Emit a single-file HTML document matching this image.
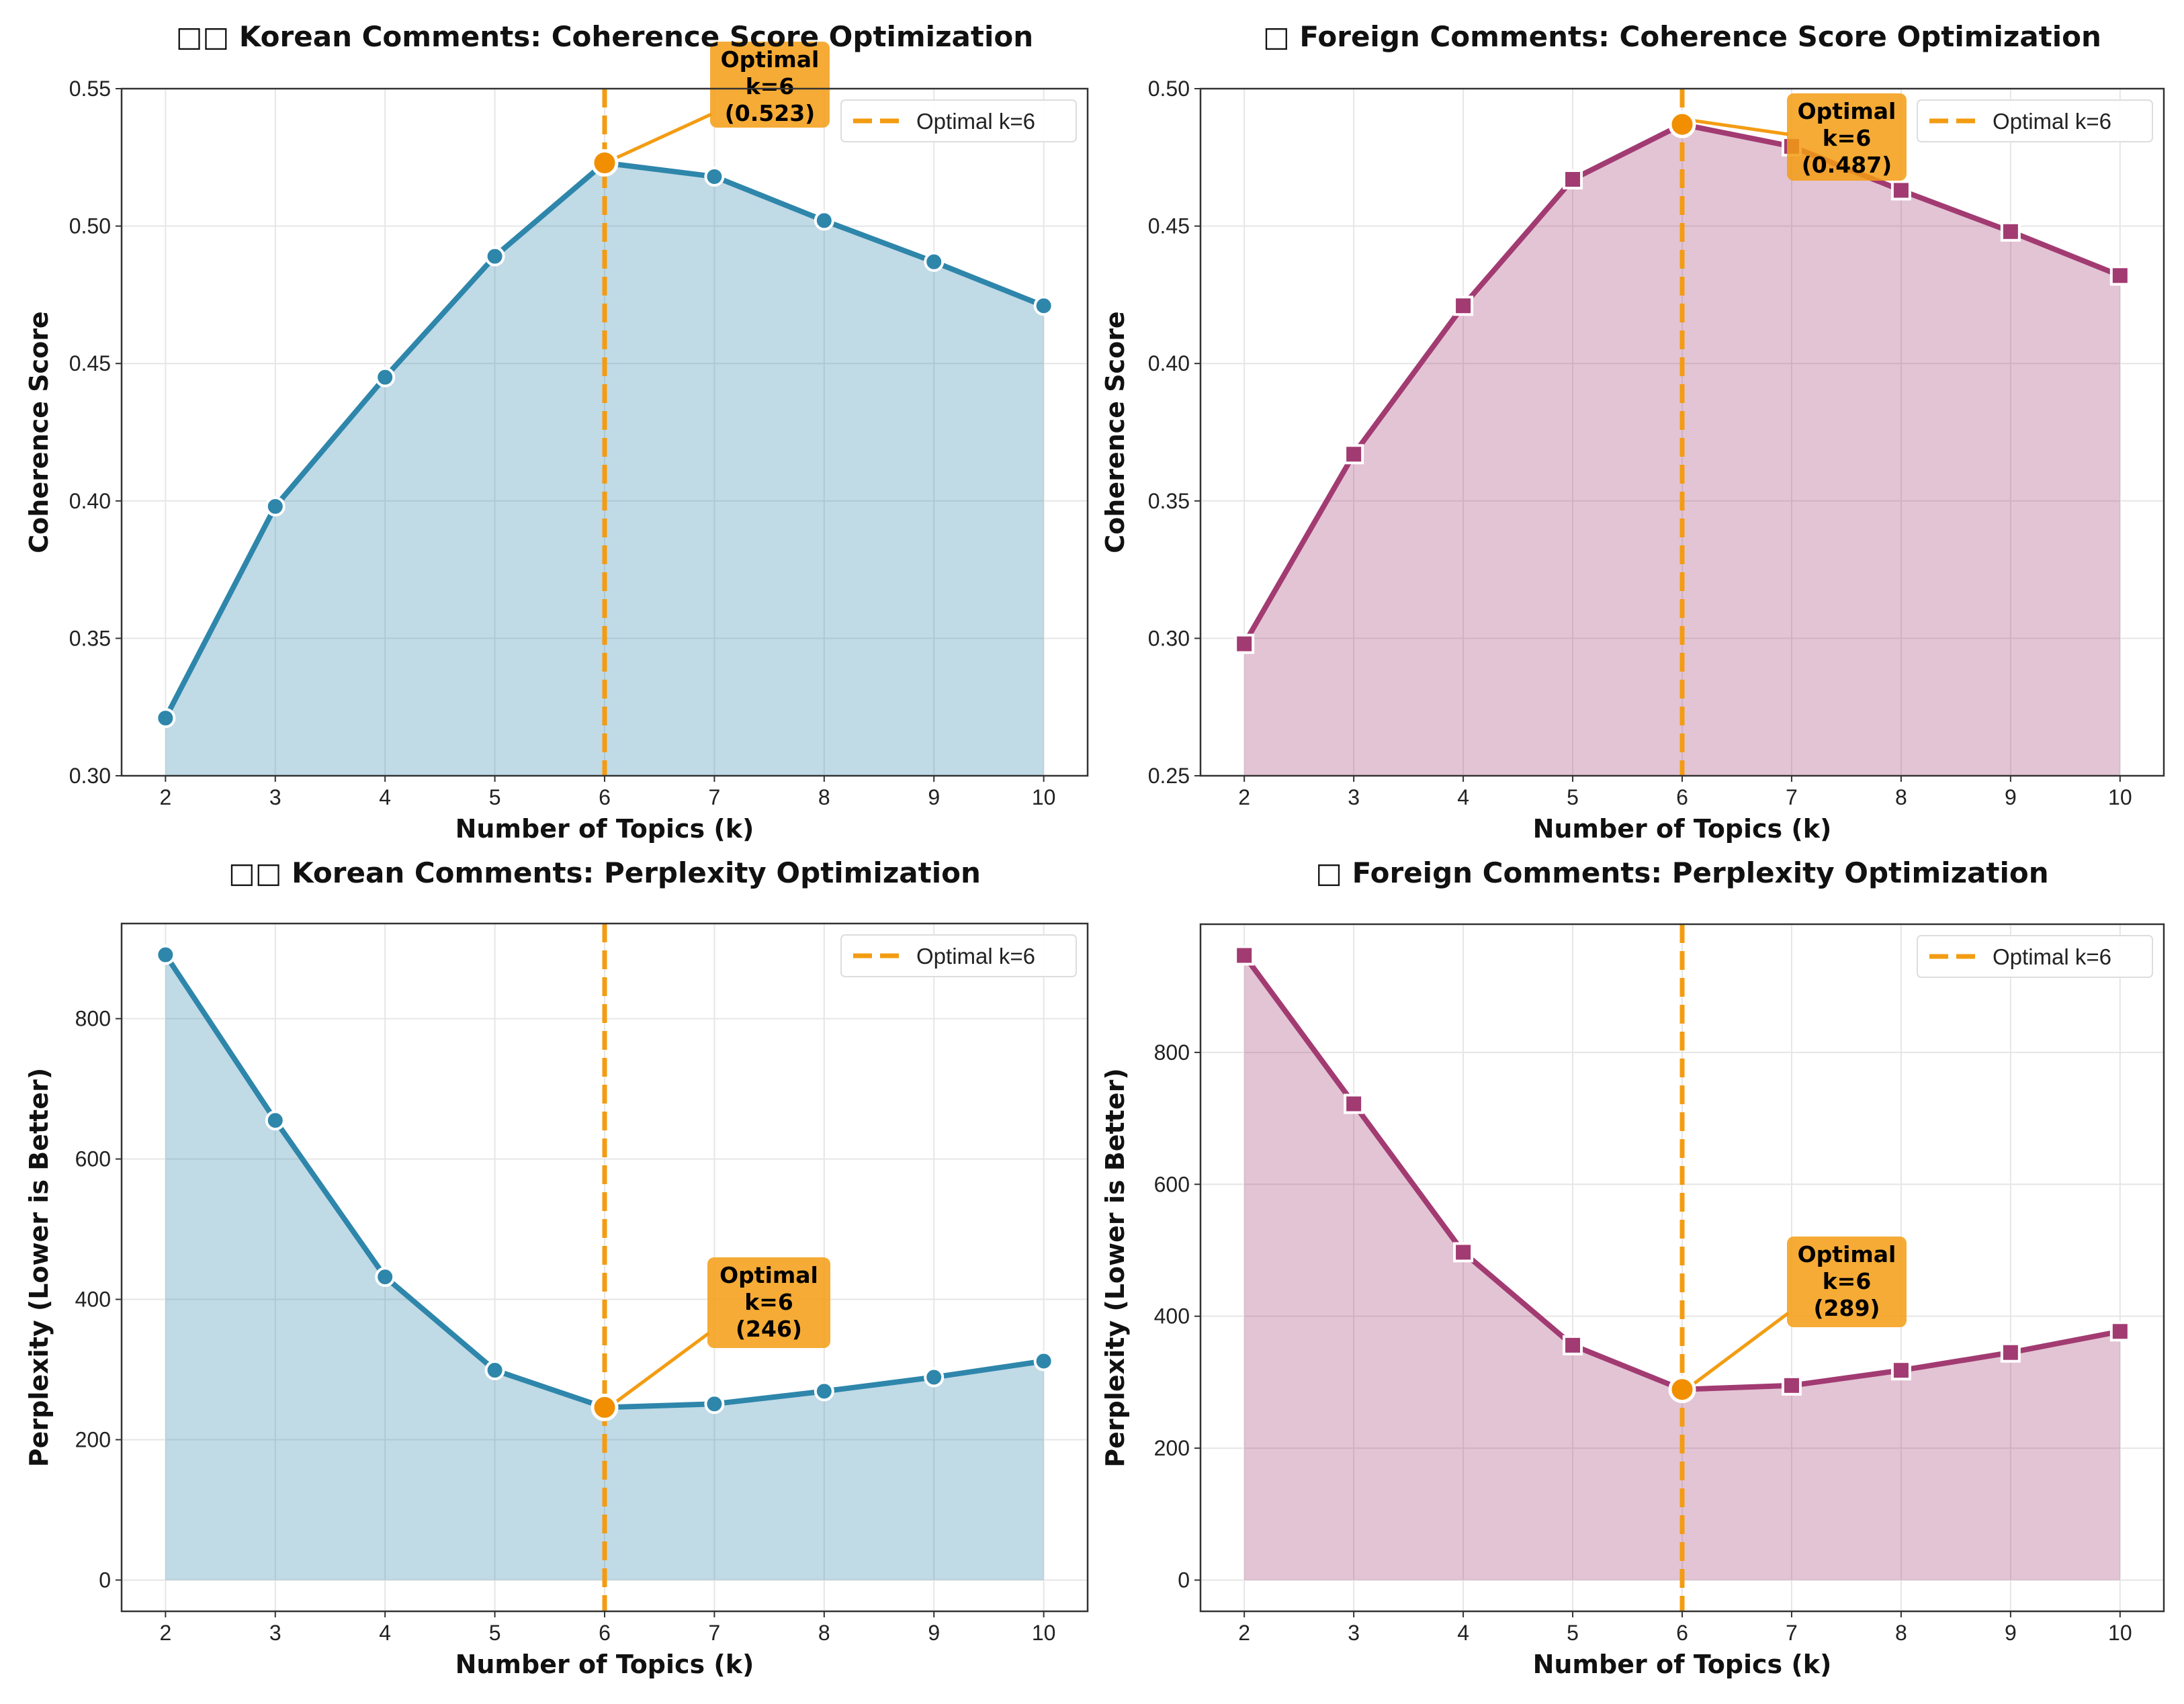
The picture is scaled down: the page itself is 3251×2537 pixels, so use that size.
<!DOCTYPE html>
<html><head><meta charset="utf-8"><style>
body{margin:0;background:#fff}
svg{display:block;font-family:"Liberation Sans","DejaVu Sans",sans-serif}
.dj{font-family:"DejaVu Sans","Liberation Sans",sans-serif}
</style></head><body>
<svg id="chart" width="3251" height="2537" viewBox="0 0 3251 2537" xmlns="http://www.w3.org/2000/svg"></svg>
<script>
const topics = [2,3,4,5,6,7,8,9,10];
const koreanCoherence = [0.321,0.398,0.445,0.489,0.523,0.518,0.502,0.487,0.471];
const foreignCoherence = [0.298,0.367,0.421,0.467,0.487,0.479,0.463,0.448,0.432];
const koreanPerplexity = [891,655,432,299,246,251,269,289,312];
const foreignPerplexity = [947,722,497,356,289,295,318,345,377];
const coherenceTicksKR = [0.30,0.35,0.40,0.45,0.50,0.55];
const coherenceTicksFR = [0.25,0.30,0.35,0.40,0.45,0.50];
const perplexityTicks = [0,200,400,600,800];
const optimalK = 6;

const NS="http://www.w3.org/2000/svg";
const svg=document.getElementById('chart');
function mk(tag,attrs,parent,text){const e=document.createElementNS(NS,tag);for(const k in attrs)e.setAttribute(k,attrs[k]);if(text!==undefined)e.textContent=text;(parent||svg).appendChild(e);return e;}

const panels=[
 {id:'korean-coherence',title:'□□ Korean Comments: Coherence Score Optimization',L:181,R:1619,T:132,B:1155,vals:koreanCoherence,ticks:coherenceTicksKR,fixed:[0.30,0.55],fmt:v=>v.toFixed(2),ylabel:'Coherence Score',color:'#2E86AB',fill:'#2E86AB',marker:'circle',box:[1057,62,178,128],arrowY:170,lbl:'(0.523)',titleY:55,ylabX:58},
 {id:'foreign-coherence',title:'□ Foreign Comments: Coherence Score Optimization',L:1787,R:3221,T:132,B:1155,vals:foreignCoherence,ticks:coherenceTicksFR,fixed:[0.25,0.50],fmt:v=>v.toFixed(2),ylabel:'Coherence Score',color:'#A23B72',fill:'#A23B72',marker:'square',box:[2660,139,178,130],arrowY:200,lbl:'(0.487)',titleY:55,ylabX:1660},
 {id:'korean-perplexity',title:'□□ Korean Comments: Perplexity Optimization',L:181,R:1619,T:1375,B:2399,vals:koreanPerplexity,ticks:perplexityTicks,fixed:null,fmt:v=>String(v),ylabel:'Perplexity (Lower is Better)',color:'#2E86AB',fill:'#2E86AB',marker:'circle',box:[1053,1872,183,135],arrowY:1985,lbl:'(246)',titleY:1300,ylabX:58},
 {id:'foreign-perplexity',title:'□ Foreign Comments: Perplexity Optimization',L:1787,R:3221,T:1376,B:2399,vals:foreignPerplexity,ticks:perplexityTicks,fixed:null,fmt:v=>String(v),ylabel:'Perplexity (Lower is Better)',color:'#A23B72',fill:'#A23B72',marker:'square',box:[2660,1841,178,135],arrowY:1955,lbl:'(289)',titleY:1300,ylabX:1660}
];

panels.forEach(p=>{
 const g=mk('g',{});
 
 
 let ymin,ymax;
 if(p.fixed){ymin=p.fixed[0];ymax=p.fixed[1];}
 else{const mx=Math.max(...p.vals),mn=0;const m=(mx-mn)*0.05;ymin=mn-m;ymax=mx+m;}
 const xmin=topics[0]-0.4,xmax=topics[topics.length-1]+0.4;
 const X=v=>p.L+(v-xmin)/(xmax-xmin)*(p.R-p.L);
 const Y=v=>p.B-(v-ymin)/(ymax-ymin)*(p.B-p.T);
 topics.forEach(t=>{const l=mk('line',{x1:X(t),x2:X(t),y1:p.T,y2:p.B,stroke:'#e6e6e6','stroke-width':2},g);});
 p.ticks.forEach(t=>{const l=mk('line',{x1:p.L,x2:p.R,y1:Y(t),y2:Y(t),stroke:'#e6e6e6','stroke-width':2},g);});
 const base=p.fixed?ymin:0;
 let d='M'+X(topics[0])+','+Y(base);
 topics.forEach((t,i)=>{d+=' L'+X(t)+','+Y(p.vals[i]);});
 d+=' L'+X(topics[topics.length-1])+','+Y(base)+' Z';
 const area=mk('path',{d:d,fill:p.fill,'fill-opacity':0.3},g);
 
 
 const pts=topics.map((t,i)=>X(t)+','+Y(p.vals[i])).join(' ');
 const line=mk('polyline',{points:pts,fill:'none',stroke:p.color,'stroke-width':8,'stroke-linejoin':'round'},g);
 
 
 const vl=mk('line',{x1:X(optimalK),x2:X(optimalK),y1:p.T,y2:p.B,stroke:'#F39C12','stroke-width':7,'stroke-dasharray':'28,12'},g);
 
 
 topics.forEach((t,i)=>{
  if(t===optimalK)return;
  let m;
  if(p.marker==='circle')m=mk('circle',{cx:X(t),cy:Y(p.vals[i]),r:13,fill:p.color,stroke:'#fff','stroke-width':4},g);
  else m=mk('rect',{x:X(t)-13,y:Y(p.vals[i])-13,width:26,height:26,fill:p.color,stroke:'#fff','stroke-width':4},g);
  
  
 });
 const oi=topics.indexOf(optimalK);
 const ox=X(optimalK),oy=Y(p.vals[oi]);
 const [bx,by,bw,bh]=p.box;
 const arr=mk('line',{x1:bx+2,x2:ox+14,y1:p.arrowY,y2:oy-6,stroke:'#F39C12','stroke-width':5},g);
 
 
 const op=mk('circle',{cx:ox,cy:oy,r:18,fill:'#F18F01',stroke:'#fff','stroke-width':5},g);
 
 
 const box=mk('rect',{x:bx,y:by,width:bw,height:bh,rx:10,fill:'#F39C12','fill-opacity':0.85},g);
 
 
 ['Optimal','k=6',p.lbl].forEach((s,j)=>{const t=mk('text',{x:bx+bw/2,y:by+38+j*40,'text-anchor':'middle','font-size':33,'font-weight':'bold',fill:'#000',class:'dj'},g,s);});
 const fr=mk('rect',{x:p.L,y:p.T,width:p.R-p.L,height:p.B-p.T,fill:'none',stroke:'#333','stroke-width':2.5},g);
 
 
 topics.forEach(t=>{
  mk('line',{x1:X(t),x2:X(t),y1:p.B,y2:p.B+9,stroke:'#333','stroke-width':2},g);
  const tl=mk('text',{x:X(t),y:p.B+43,'text-anchor':'middle','font-size':32,fill:'#222'},g,String(t));
  
  
 });
 p.ticks.forEach(t=>{
  mk('line',{x1:p.L-9,x2:p.L,y1:Y(t),y2:Y(t),stroke:'#333','stroke-width':2},g);
  const tl=mk('text',{x:p.L-16,y:Y(t)+11,'text-anchor':'end','font-size':32,fill:'#222'},g,p.fmt(t));
  
  
 });
 const xl=mk('text',{x:(p.L+p.R)/2,y:p.B+92,'text-anchor':'middle','font-size':38,'font-weight':'bold',fill:'#111',class:'dj'},g,'Number of Topics (k)');
 
 
 const yc=(p.T+p.B)/2;
 const yl=mk('text',{x:p.ylabX,y:yc,'text-anchor':'middle','font-size':38,'font-weight':'bold',fill:'#111',class:'dj',transform:'rotate(-90 '+p.ylabX+' '+yc+')','dominant-baseline':'central'},g,p.ylabel);
 
 
 const ti=mk('text',{x:(p.L+p.R)/2,y:p.titleY+14,'text-anchor':'middle','font-size':42,'font-weight':'bold',fill:'#111',class:'dj'},g,p.title);
 
 
 const lx=p.R-367,ly=p.T+17;
 const lg=mk('g',{},g);
 
 
 mk('rect',{x:lx,y:ly,width:350,height:62,rx:6,fill:'#fff','fill-opacity':0.9,stroke:'#ddd','stroke-width':2},lg);
 mk('line',{x1:lx+18,x2:lx+88,y1:ly+31,y2:ly+31,stroke:'#F39C12','stroke-width':7,'stroke-dasharray':'28,12'},lg);
 const lt=mk('text',{x:lx+112,y:ly+43,'font-size':33,fill:'#222'},lg,'Optimal k=6');
 
 
});
</script>
</body></html>
